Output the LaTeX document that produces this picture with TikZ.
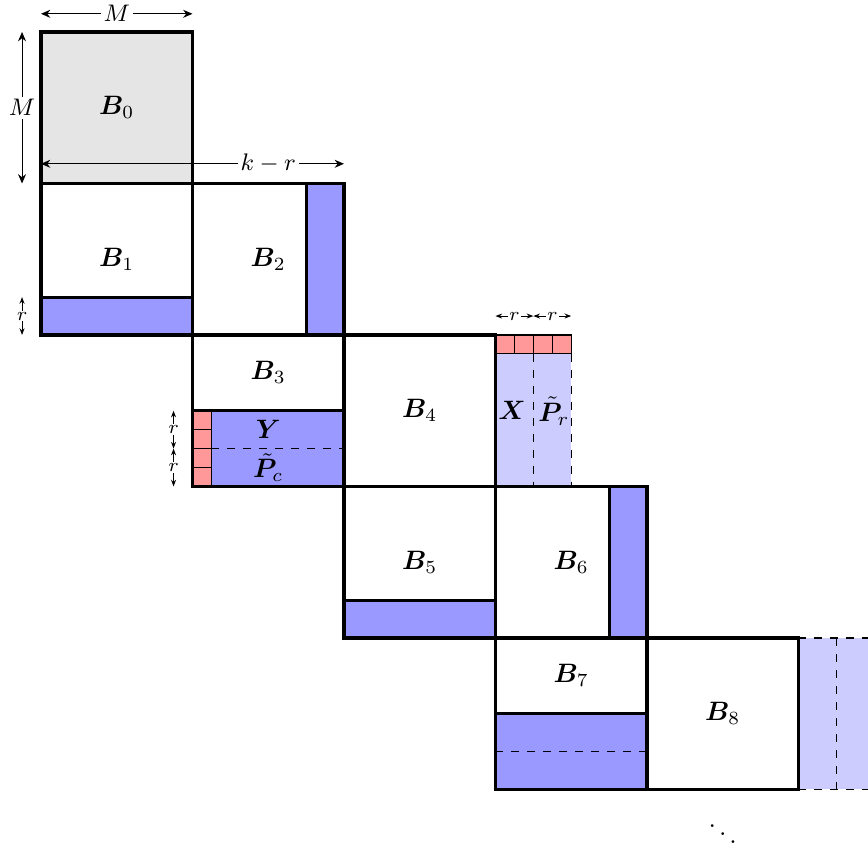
\documentclass[tikz,border=0pt]{standalone}
\usepackage{amsmath,bm}
\usetikzlibrary{arrows.meta}
\begin{document}
\begin{tikzpicture}[
  blk/.style={line width=1.2pt},
  strip/.style={fill=blue!40},
  lite/.style={fill=blue!20},
  cell/.style={fill=red!40, draw=black, line width=0.4pt},
  dim/.style={<->, >={Stealth[length=3.5pt,width=3pt]}, line width=0.4pt},
  rdim/.style={<->, >={Stealth[length=2.5pt]}, line width=0.4pt},
  lbl/.style={font=\small, fill=white, inner sep=1pt},
  rl/.style={font=\scriptsize, fill=white, inner sep=0.5pt},
  tag/.style={inner sep=1pt},
  ttag/.style={inner sep=0pt}
]
\useasboundingbox (-0.541,0.422) rectangle (10.918,-10.799);
\clip (-0.541,0.422) rectangle (10.918,-10.799);

% fills
\fill[black!10] (0,0) rectangle (2,-2);
\fill[strip] (0,-3.5) rectangle (2,-4);
\fill[strip] (3.5,-2) rectangle (4,-4);
\fill[strip] (2,-5) rectangle (4,-6);
\fill[lite] (6,-4) rectangle (7,-6);
\fill[strip] (4,-7.5) rectangle (6,-8);
\fill[strip] (7.5,-6) rectangle (8,-8);
\fill[strip] (6,-9) rectangle (8,-10);
\fill[lite] (10,-8) rectangle (11,-10);

% red cells
\foreach \i in {0,...,3} \draw[cell] (2,-5-0.25*\i) rectangle (2.25,-5.25-0.25*\i);
\foreach \i in {0,...,3} \draw[cell] (6+0.25*\i,-4) rectangle (6.25+0.25*\i,-4.25);

% dashed
\draw[dashed] (2.25,-5.5) -- (4,-5.5);
\draw[dashed] (6.5,-4.25) -- (6.5,-6);
\draw[dashed] (7,-4.25) -- (7,-6);
\draw[dashed] (6,-9.5) -- (8,-9.5);
\draw[dashed] (10,-8) -- (11,-8) (10,-10) -- (11,-10);
\draw[dashed] (10.5,-8) -- (10.5,-10);

% borders
\draw[blk] (0,0) rectangle (2,-2);
\draw[blk] (0,-2) rectangle (2,-4) (0,-3.5) -- (2,-3.5);
\draw[blk] (2,-2) rectangle (4,-4) (3.5,-2) -- (3.5,-4);
\draw[blk] (2,-4) rectangle (4,-6) (2,-5) -- (4,-5);
\draw[blk] (4,-4) rectangle (6,-6);
\draw[blk] (6,-4) -- (6,-6);
\draw[blk] (4,-6) rectangle (6,-8) (4,-7.5) -- (6,-7.5);
\draw[blk] (6,-6) rectangle (8,-8) (7.5,-6) -- (7.5,-8);
\draw[blk] (6,-8) rectangle (8,-10) (6,-9) -- (8,-9);
\draw[blk] (8,-8) rectangle (10,-10);

% labels
\node[tag] (b0) at (1,-1) {$\bm{B}_0$};
\node[tag] (b1) at (1,-3) {$\bm{B}_1$};
\node[tag] (b2) at (3,-3) {$\bm{B}_2$};
\node[tag] (b3) at (3,-4.5) {$\bm{B}_3$};
\node[ttag] (y) at (3,-5.25) {$\bm{Y}$};
\node[ttag] (pc) at (3,-5.75) {$\tilde{\bm{P}}_c$};
\node[tag] (b4) at (5,-5) {$\bm{B}_4$};
\node[ttag] (x) at (6.22,-5) {$\bm{X}$};
\node[ttag] (pr) at (6.77,-5) {$\tilde{\bm{P}}_r$};
\node[tag] (b5) at (5,-7) {$\bm{B}_5$};
\node[tag] (b6) at (7,-7) {$\bm{B}_6$};
\node[tag] (b7) at (7,-8.5) {$\bm{B}_7$};
\node[tag] (b8) at (9,-9) {$\bm{B}_8$};
\node[tag] (dots) at (9,-10.48) {$\ddots$};

% dimensions
\draw[dim] (0,0.24) -- node[lbl] (mt) {$M$} (2,0.24);
\draw[dim] (-0.25,0) -- node[lbl] (ml) {$M$} (-0.25,-2);
\draw[dim] (0,-1.74) -- node[lbl,pos=0.75] (kr) {$k-r$} (4,-1.74);
\draw[rdim] (-0.25,-3.5) -- node[rl] (r1) {$r$} (-0.25,-4);
\draw[rdim] (1.75,-5) -- node[rl] (r2) {$r$} (1.75,-5.5);
\draw[rdim] (1.75,-5.5) -- node[rl] (r3) {$r$} (1.75,-6);
\draw[rdim] (6,-3.75) -- node[rl] (r4) {$r$} (6.5,-3.75);
\draw[rdim] (6.5,-3.75) -- node[rl] (r5) {$r$} (7,-3.75);
\end{tikzpicture}
\end{document}
